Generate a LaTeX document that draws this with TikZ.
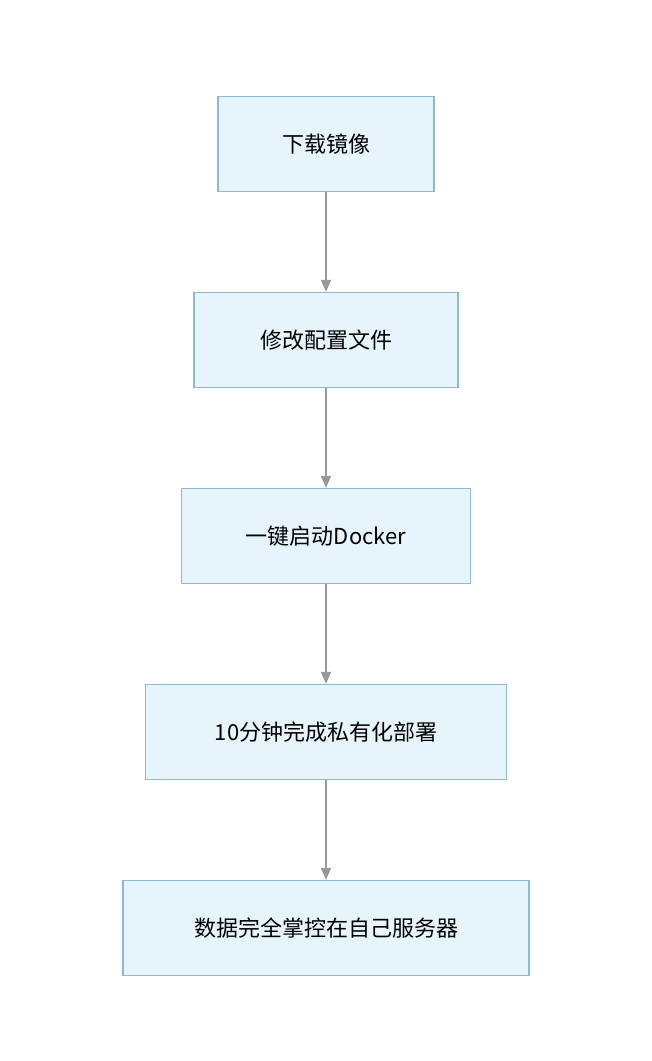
\documentclass[tikz,border=0pt]{standalone}
\usepackage{fontspec}
\setmainfont{Noto Sans CJK SC}
\usepackage{tikz}
\usetikzlibrary{arrows.meta, positioning}
\definecolor{boxfill}{HTML}{E6F5FC}
\definecolor{boxline}{HTML}{8DB9D9}
\definecolor{arrowgray}{HTML}{999999}

\begin{document}
\begin{tikzpicture}[
    x=1pt, y=-1pt,
    stepbox/.style={rectangle, draw=boxline, line width=1.2pt, fill=boxfill, minimum height=95pt, align=center, font=\fontsize{22}{26}\selectfont},
    arrow/.style={draw=arrowgray, line width=1.2pt, -{Triangle[length=12pt, width=10pt]}},
]
    \useasboundingbox (0,0) rectangle (652,1061);
    % Steps
    \node[stepbox, minimum width=216pt] (image) at (326,144) {下载镜像};
    \node[stepbox, minimum width=264pt] (config) at (326,340) {修改配置文件};
    \node[stepbox, minimum width=289pt] (docker) at (326,536) {一键启动Docker};
    \node[stepbox, minimum width=361pt] (deploy) at (326,732) {10分钟完成私有化部署};
    \node[stepbox, minimum width=406pt] (server) at (326,928) {数据完全掌控在自己服务器};

    % Connect everything
    \draw[arrow] (image) -- (config);
    \draw[arrow] (config) -- (docker);
    \draw[arrow] (docker) -- (deploy);
    \draw[arrow] (deploy) -- (server);
\end{tikzpicture}
\end{document}
